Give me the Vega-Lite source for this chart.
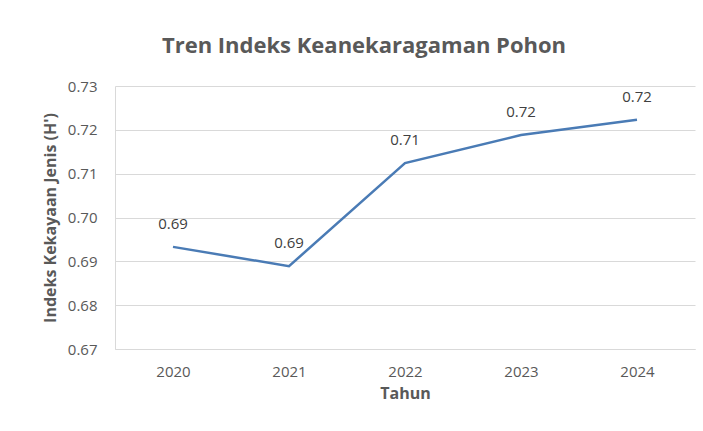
{
  "$schema": "https://vega.github.io/schema/vega-lite/v6.json",
  "width": 580,
  "height": 263,
  "autosize": {"type": "none"},
  "padding": {"left": 115, "top": 86, "right": 8, "bottom": 82},
  "background": "white",
  "title": {
    "text": "Tren Indeks Keanekaragaman Pohon",
    "font": "Open Sans",
    "fontSize": 22,
    "fontWeight": "bold",
    "color": "#595959",
    "anchor": "middle",
    "dx": -41,
    "offset": 21
  },
  "data": {
    "values": [
      {"Tahun": "2020", "H": 0.6933},
      {"Tahun": "2021", "H": 0.6889},
      {"Tahun": "2022", "H": 0.7124},
      {"Tahun": "2023", "H": 0.7188},
      {"Tahun": "2024", "H": 0.7223}
    ]
  },
  "encoding": {
    "x": {
      "field": "Tahun",
      "type": "ordinal",
      "scale": {"type": "point", "padding": 0.5},
      "axis": {
        "title": "Tahun",
        "labelAngle": 0,
        "ticks": false,
        "grid": false,
        "domainColor": "#d9d9d9",
        "labelPadding": 15,
        "titlePadding": 6
      }
    },
    "y": {
      "field": "H",
      "type": "quantitative",
      "scale": {"domain": [0.67, 0.73], "zero": false, "nice": false},
      "axis": {
        "title": "Indeks Kekayaan Jenis (H')",
        "values": [0.67, 0.68, 0.69, 0.70, 0.71, 0.72, 0.73],
        "format": ".2f",
        "ticks": false,
        "grid": true,
        "gridColor": "#d9d9d9",
        "domainColor": "#d9d9d9",
        "labelPadding": 18,
        "titlePadding": 9
      }
    }
  },
  "layer": [
    {
      "mark": {"type": "line", "color": "#4a7bb5", "strokeWidth": 2.5}
    },
    {
      "mark": {"type": "text", "dy": -23, "baseline": "middle", "font": "Open Sans", "fontSize": 15, "color": "#404040"},
      "encoding": {
        "text": {"field": "H", "type": "quantitative", "format": ".2f"}
      }
    }
  ],
  "config": {
    "view": {"stroke": null},
    "axis": {
      "labelFont": "Open Sans",
      "labelFontSize": 15,
      "labelColor": "#595959",
      "titleFont": "Open Sans",
      "titleFontSize": 16,
      "titleFontWeight": "bold",
      "titleColor": "#595959"
    }
  }
}
